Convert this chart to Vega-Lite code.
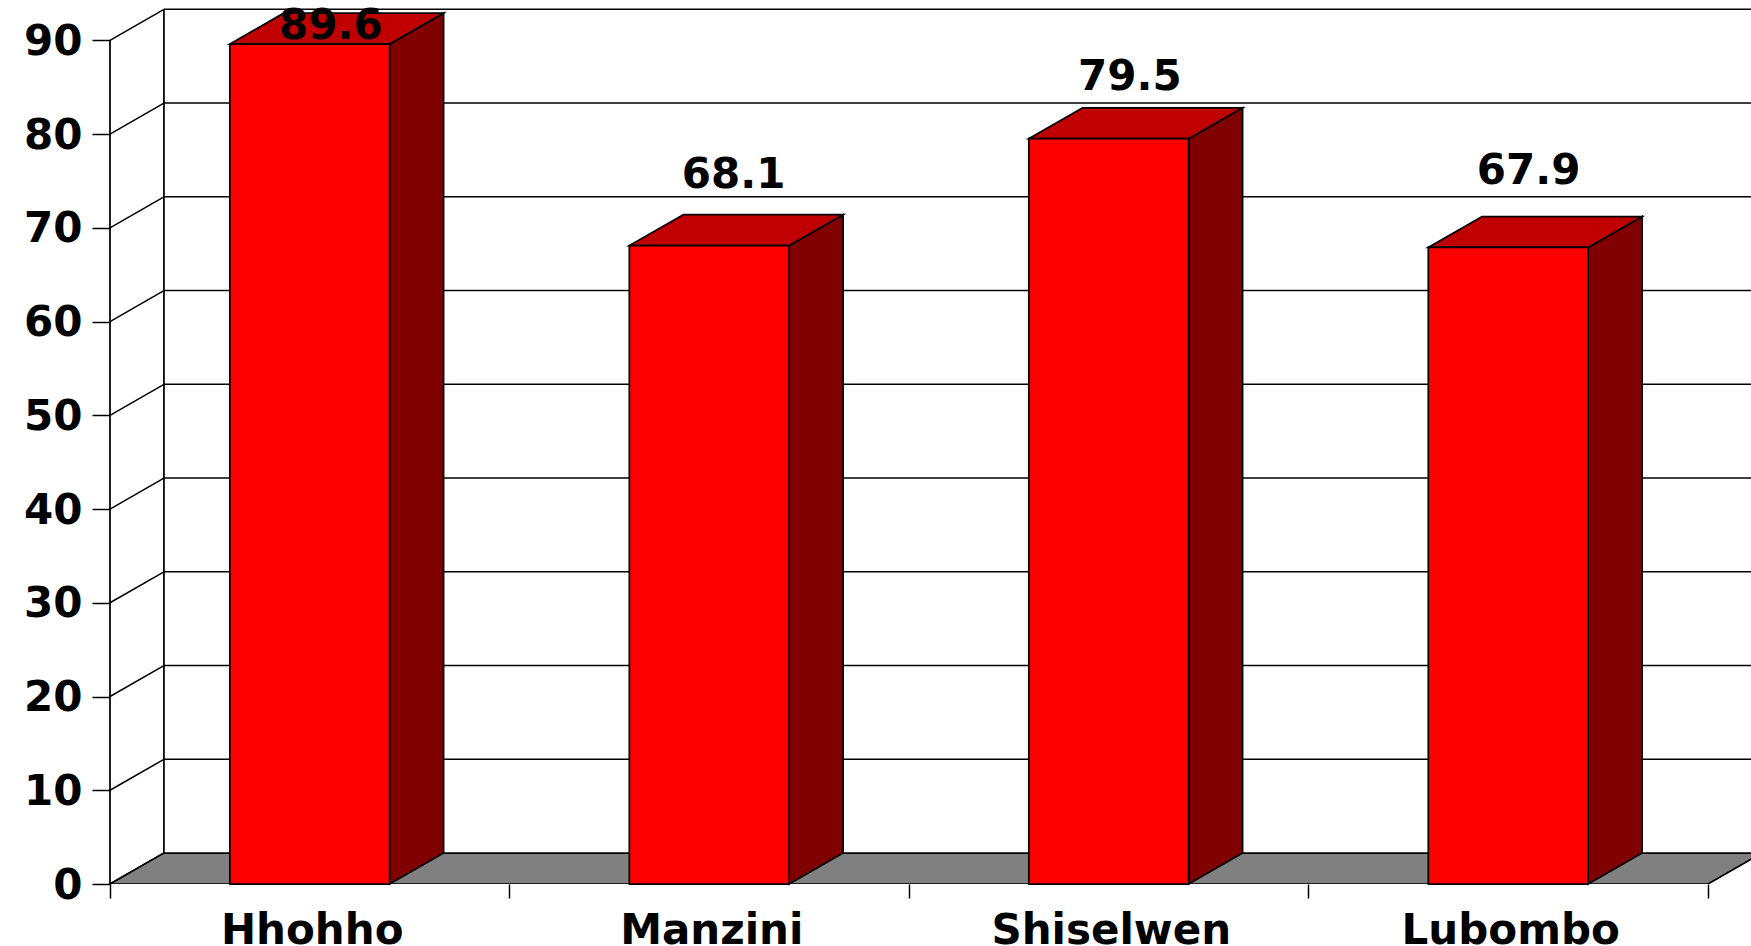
{
  "$schema": "https://vega.github.io/schema/vega-lite/v6.json",
  "width": 1641,
  "height": 884,
  "autosize": {"type": "none"},
  "padding": {"left": 110, "top": 0, "right": 0, "bottom": 62},
  "background": "white",
  "config": {"view": {"stroke": null}},
  "resolve": {"axis": {"x": "independent", "y": "independent"}},
  "datasets": {
    "bars": [
      {"region": "Hhohho", "i": 0, "value": 89.6},
      {"region": "Manzini", "i": 1, "value": 68.1},
      {"region": "Shiselwen", "i": 2, "value": 79.5},
      {"region": "Lubombo", "i": 3, "value": 67.9}
    ],
    "levels": [
      {"v": 0}, {"v": 10}, {"v": 20}, {"v": 30}, {"v": 40},
      {"v": 50}, {"v": 60}, {"v": 70}, {"v": 80}, {"v": 90}
    ]
  },
  "layer": [
    {
      "data": {"name": "levels"},
      "mark": {"type": "rule", "stroke": "black", "strokeWidth": 1.5},
      "transform": [
        {"filter": "datum.v > 0"},
        {"calculate": "datum.v + 3.3", "as": "gy"},
        {"calculate": "0.135", "as": "gx"},
        {"calculate": "4.1077", "as": "gx2"}
      ],
      "encoding": {
        "x": {
          "field": "gx", "type": "quantitative",
          "scale": {"domain": [0, 4.1077], "nice": false, "zero": false},
          "axis": {
            "title": null, "grid": false, "domain": false, "orient": "bottom",
            "values": [0, 0.5, 1, 1.5, 2, 2.5, 3, 3.5, 4],
            "tickSize": 14, "tickWidth": 1.5, "tickColor": "black",
            "tickOpacity": {"condition": {"test": "datum.value % 1 === 0", "value": 1}, "value": 0},
            "labelExpr": "datum.value === 0.5 ? 'Hhohho' : datum.value === 1.5 ? 'Manzini' : datum.value === 2.5 ? 'Shiselwen' : datum.value === 3.5 ? 'Lubombo' : ''",
            "labelFont": "DejaVu Sans", "labelFontWeight": "bold", "labelFontSize": 42, "labelLimit": 400, "labelOffset": 2,
            "labelColor": "black", "labelPadding": 45, "labelFlush": false, "labelOverlap": false, "labelBaseline": "alphabetic", "labelBound": false
          }
        },
        "x2": {"field": "gx2"},
        "y": {
          "field": "gy", "type": "quantitative",
          "scale": {"domain": [0, 94.3], "nice": false, "zero": false},
          "axis": {
            "title": null, "grid": false, "domain": false, "orient": "left",
            "values": [0, 10, 20, 30, 40, 50, 60, 70, 80, 90],
            "tickSize": 18, "tickWidth": 1.5, "tickColor": "black",
            "labelFont": "DejaVu Sans", "labelFontWeight": "bold", "labelFontSize": 42, "labelOffset": 1,
            "labelColor": "black", "labelPadding": 10, "labelFlush": false, "labelOverlap": false, "labelBound": false
          }
        }
      }
    },
    {
      "data": {"name": "levels"},
      "mark": {"type": "rule", "stroke": "black", "strokeWidth": 1.75},
      "transform": [
        {"filter": "datum.v === 0"},
        {"calculate": "0.135", "as": "wx"},
        {"calculate": "3.3", "as": "wy"},
        {"calculate": "93.3", "as": "wy2"}
      ],
      "encoding": {
        "x": {"field": "wx", "type": "quantitative", "scale": {"domain": [0, 4.1077], "nice": false, "zero": false}, "axis": null},
        "y": {"field": "wy", "type": "quantitative", "scale": {"domain": [0, 94.3], "nice": false, "zero": false}, "axis": null},
        "y2": {"field": "wy2"}
      }
    },
    {
      "data": {"name": "levels"},
      "mark": {"type": "rule", "stroke": "black", "strokeWidth": 1.75},
      "transform": [
        {"filter": "datum.v === 0"},
        {"calculate": "0", "as": "wx"},
        {"calculate": "0", "as": "wy"},
        {"calculate": "90", "as": "wy2"}
      ],
      "encoding": {
        "x": {"field": "wx", "type": "quantitative", "scale": {"domain": [0, 4.1077], "nice": false, "zero": false}, "axis": null},
        "y": {"field": "wy", "type": "quantitative", "scale": {"domain": [0, 94.3], "nice": false, "zero": false}, "axis": null},
        "y2": {"field": "wy2"}
      }
    },
    {
      "data": {"name": "levels"},
      "mark": {"type": "line", "stroke": "black", "strokeWidth": 1.5},
      "transform": [
        {"calculate": "[0, 1]", "as": "step"},
        {"flatten": ["step"]},
        {"calculate": "datum.step * 0.135", "as": "dx"},
        {"calculate": "datum.v + datum.step * 3.3", "as": "dy"}
      ],
      "encoding": {
        "x": {"field": "dx", "type": "quantitative", "scale": {"domain": [0, 4.1077], "nice": false, "zero": false}, "axis": null},
        "y": {"field": "dy", "type": "quantitative", "scale": {"domain": [0, 94.3], "nice": false, "zero": false}, "axis": null},
        "detail": {"field": "v"}
      }
    },
    {
      "data": {"name": "levels"},
      "mark": {"type": "area", "orient": "horizontal", "fill": "#808080", "stroke": "black", "strokeWidth": 1.75, "clip": true},
      "transform": [
        {"filter": "datum.v === 0"},
        {"calculate": "[0, 1]", "as": "step"},
        {"flatten": ["step"]},
        {"calculate": "datum.step * 3.3", "as": "fy"},
        {"calculate": "datum.step * 0.135", "as": "fx"},
        {"calculate": "4 + datum.step * 0.135", "as": "fx2"}
      ],
      "encoding": {
        "y": {"field": "fy", "type": "quantitative", "scale": {"domain": [0, 94.3], "nice": false, "zero": false}, "axis": null},
        "x": {"field": "fx", "type": "quantitative", "scale": {"domain": [0, 4.1077], "nice": false, "zero": false}, "axis": null},
        "x2": {"field": "fx2"}
      }
    },
    {
      "data": {"name": "bars"},
      "mark": {"type": "area", "orient": "vertical", "fill": "#800000", "stroke": "black", "strokeWidth": 1.75},
      "transform": [
        {"calculate": "[0, 1]", "as": "step"},
        {"flatten": ["step"]},
        {"calculate": "datum.i + 0.7 + datum.step * 0.135", "as": "sx"},
        {"calculate": "datum.step * 3.3", "as": "sy"},
        {"calculate": "datum.value + datum.step * 3.3", "as": "sy2"}
      ],
      "encoding": {
        "x": {"field": "sx", "type": "quantitative", "scale": {"domain": [0, 4.1077], "nice": false, "zero": false}, "axis": null},
        "y": {"field": "sy", "type": "quantitative", "scale": {"domain": [0, 94.3], "nice": false, "zero": false}, "axis": null},
        "y2": {"field": "sy2"},
        "detail": {"field": "region"}
      }
    },
    {
      "data": {"name": "bars"},
      "mark": {"type": "area", "orient": "horizontal", "fill": "#C00000", "stroke": "black", "strokeWidth": 1.75},
      "transform": [
        {"calculate": "[0, 1]", "as": "step"},
        {"flatten": ["step"]},
        {"calculate": "datum.value + datum.step * 3.3", "as": "ty"},
        {"calculate": "datum.i + 0.3 + datum.step * 0.135", "as": "tx"},
        {"calculate": "datum.i + 0.7 + datum.step * 0.135", "as": "tx2"}
      ],
      "encoding": {
        "y": {"field": "ty", "type": "quantitative", "scale": {"domain": [0, 94.3], "nice": false, "zero": false}, "axis": null},
        "x": {"field": "tx", "type": "quantitative", "scale": {"domain": [0, 4.1077], "nice": false, "zero": false}, "axis": null},
        "x2": {"field": "tx2"},
        "detail": {"field": "region"}
      }
    },
    {
      "data": {"name": "bars"},
      "mark": {"type": "rect", "fill": "#FF0000", "stroke": "black", "strokeWidth": 1.75},
      "transform": [
        {"calculate": "datum.i + 0.3", "as": "bx"},
        {"calculate": "datum.i + 0.7", "as": "bx2"},
        {"calculate": "0", "as": "base"}
      ],
      "encoding": {
        "x": {"field": "bx", "type": "quantitative", "scale": {"domain": [0, 4.1077], "nice": false, "zero": false}, "axis": null},
        "x2": {"field": "bx2"},
        "y": {"field": "value", "type": "quantitative", "scale": {"domain": [0, 94.3], "nice": false, "zero": false}, "axis": null},
        "y2": {"field": "base"}
      }
    },
    {
      "data": {"name": "bars"},
      "mark": {"type": "text", "font": "DejaVu Sans", "fontWeight": "bold", "fontSize": 42, "color": "black", "align": "center", "baseline": "middle"},
      "transform": [
        {"calculate": "{'Hhohho': 0.553, 'Manzini': 1.561, 'Shiselwen': 2.553, 'Lubombo': 3.551}[datum.region]", "as": "lx"},
        {"calculate": "{'Hhohho': 91.55, 'Manzini': 75.65, 'Shiselwen': 86.05, 'Lubombo': 76.05}[datum.region]", "as": "ly"}
      ],
      "encoding": {
        "x": {"field": "lx", "type": "quantitative", "scale": {"domain": [0, 4.1077], "nice": false, "zero": false}, "axis": null},
        "y": {"field": "ly", "type": "quantitative", "scale": {"domain": [0, 94.3], "nice": false, "zero": false}, "axis": null},
        "text": {"field": "value", "type": "quantitative", "format": ".1f"}
      }
    }
  ]
}
